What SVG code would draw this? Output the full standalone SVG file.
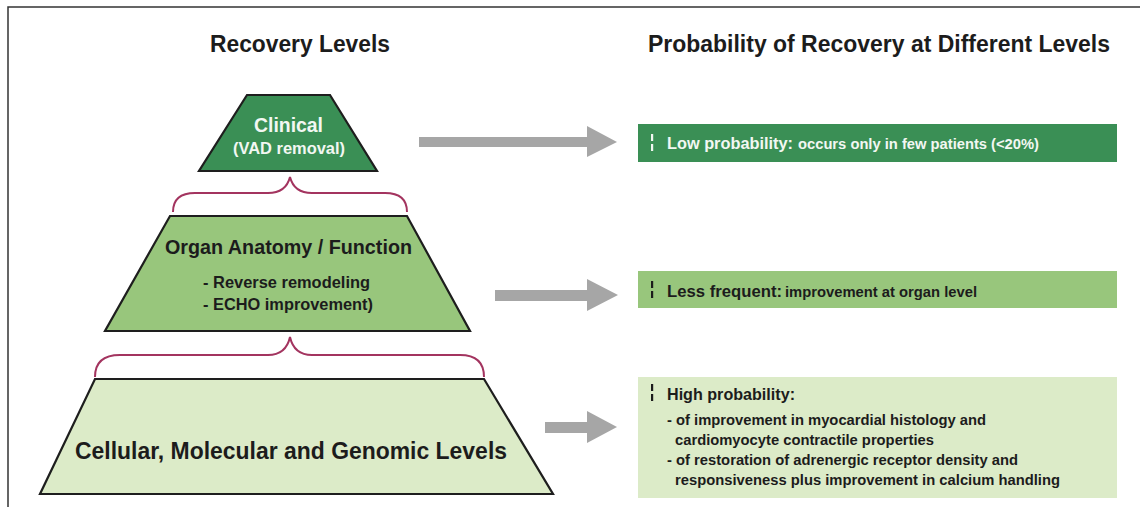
<svg xmlns="http://www.w3.org/2000/svg" width="1140" height="507" viewBox="0 0 1140 507">
<style>
.t{font-family:"Liberation Sans",Arial,sans-serif;font-weight:bold}
.trap{stroke:#1e1e1e;stroke-width:2.2;stroke-linejoin:miter}
.brace{fill:none;stroke:#a3345f;stroke-width:2}
.arrow{fill:#a6a6a6}
.w{fill:#f2f7f2}
.d{fill:#1c1c1c}
</style>
<rect width="1140" height="507" fill="#ffffff"/>
<polyline points="1140,7 8,7 8,507" fill="none" stroke="#333" stroke-width="1.5"/>

<g id="headers">
<text class="t d" x="210" y="52" font-size="23" textLength="180" lengthAdjust="spacingAndGlyphs">Recovery Levels</text>
<text class="t d" x="648" y="52" font-size="23" textLength="462" lengthAdjust="spacingAndGlyphs">Probability of Recovery at Different Levels</text>
</g>

<g id="clinical">
<polygon class="trap" points="247,95 330,95 377,171 199,171" fill="#3a8f55"/>
<text class="t w" x="254" y="132" font-size="21" textLength="69" lengthAdjust="spacingAndGlyphs">Clinical</text>
<text class="t w" x="233" y="154" font-size="16" textLength="112" lengthAdjust="spacingAndGlyphs">(VAD removal)</text>
</g>

<g id="organ">
<polygon class="trap" points="170,216 407,216 470,331 105,331" fill="#98c67c"/>
<text class="t d" x="165" y="254" font-size="21" textLength="247" lengthAdjust="spacingAndGlyphs">Organ Anatomy / Function</text>
<text class="t d" x="203" y="288" font-size="16.5" textLength="167" lengthAdjust="spacingAndGlyphs">- Reverse remodeling</text>
<text class="t d" x="203" y="310" font-size="16.5" textLength="170" lengthAdjust="spacingAndGlyphs">- ECHO improvement)</text>
</g>

<g id="cellular">
<polygon class="trap" points="95,379 484,379 553,494 40,494" fill="#dcebc8"/>
<text class="t d" x="75" y="459" font-size="24" textLength="432" lengthAdjust="spacingAndGlyphs">Cellular, Molecular and Genomic Levels</text>
</g>

<g id="box-low">
<rect x="638" y="124" width="479" height="38" fill="#3a8f55"/>
<rect x="651" y="134" width="2.2" height="7" class="w"/>
<rect x="651" y="144" width="2.2" height="7" class="w"/>
<text class="t w" x="667" y="149" font-size="16.5" textLength="126" lengthAdjust="spacingAndGlyphs">Low probability:</text>
<text class="t w" x="798" y="149" font-size="14.5" textLength="241" lengthAdjust="spacingAndGlyphs">occurs only in few patients (&lt;20%)</text>
</g>

<g id="box-less">
<rect x="638" y="271" width="479" height="37" fill="#98c67c"/>
<rect x="651" y="281" width="2.2" height="7" class="d"/>
<rect x="651" y="291" width="2.2" height="7" class="d"/>
<text class="t d" x="667" y="297" font-size="16.5" textLength="115" lengthAdjust="spacingAndGlyphs">Less frequent:</text>
<text class="t d" x="785" y="297" font-size="14.5" textLength="192" lengthAdjust="spacingAndGlyphs">improvement at organ level</text>
</g>

<g id="box-high">
<rect x="638" y="377" width="479" height="121" fill="#dcebc8"/>
<rect x="651" y="384" width="2.2" height="7" class="d"/>
<rect x="651" y="394" width="2.2" height="7" class="d"/>
<text class="t d" x="667" y="400" font-size="16.5" textLength="128" lengthAdjust="spacingAndGlyphs">High probability:</text>
<text class="t d" x="667" y="425" font-size="15" textLength="319" lengthAdjust="spacingAndGlyphs">- of improvement in myocardial histology and</text>
<text class="t d" x="675" y="445" font-size="15" textLength="259" lengthAdjust="spacingAndGlyphs">cardiomyocyte contractile properties</text>
<text class="t d" x="667" y="465" font-size="15" textLength="351" lengthAdjust="spacingAndGlyphs">- of restoration of adrenergic receptor density and</text>
<text class="t d" x="675" y="485" font-size="15" textLength="385" lengthAdjust="spacingAndGlyphs">responsiveness plus improvement in calcium handling</text>
</g>

<g id="connectors">
<path class="brace" d="M173,212 Q173,193 195,193 L268,193 Q286,193 290,177 Q294,193 312,193 L385,193 Q407,193 407,212"/>
<path class="brace" d="M95,377 Q95,355 120,355 L268,355 Q286,355 290,337 Q294,355 312,355 L460,355 Q484,355 484,377"/>
<polygon class="arrow" points="419,137 587,137 587,126 617,142 587,157 587,147 419,147"/>
<polygon class="arrow" points="495,290 587,290 587,279 618,295 587,311 587,301 495,301"/>
<polygon class="arrow" points="545,422 587,422 587,411 617,427 587,443 587,433 545,433"/>
</g>
</svg>
